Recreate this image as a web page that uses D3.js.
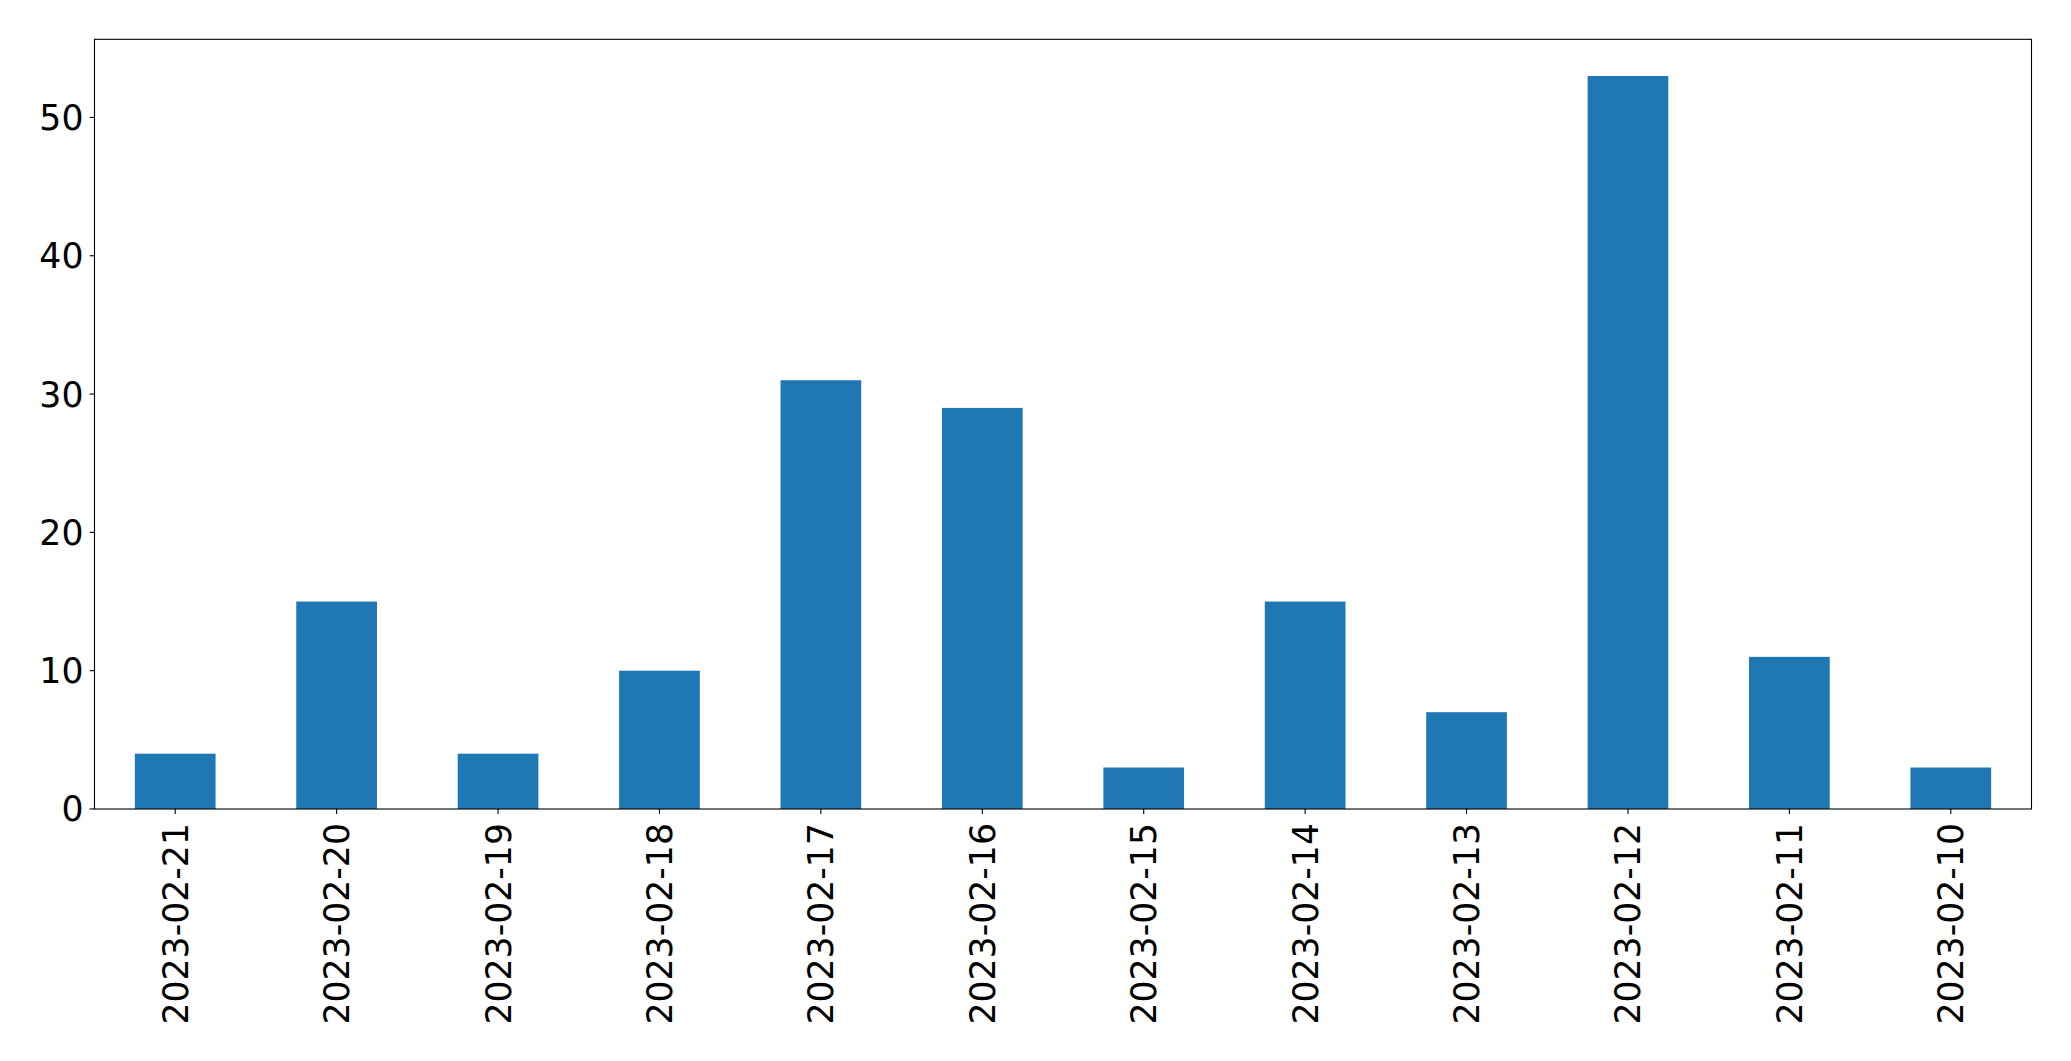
<!DOCTYPE html>
<html><head><meta charset="utf-8">
<script src="https://cdn.jsdelivr.net/npm/d3@7"></script>
<style>html,body{margin:0;padding:0;background:#fff;}svg{display:block;}</style>
</head><body>
<script>
const categories = ["2023-02-21","2023-02-20","2023-02-19","2023-02-18","2023-02-17","2023-02-16","2023-02-15","2023-02-14","2023-02-13","2023-02-12","2023-02-11","2023-02-10"];
const values = [4, 15, 4, 10, 31, 29, 3, 15, 7, 53, 11, 3];
const yTicks = [0, 10, 20, 30, 40, 50];

(function () {
const W = 2071, H = 1061;
const mLeft = 94.5, mRight = 2031.5, mTop = 39.3, mBottom = 809;
const fontSize = 34.7;

const svg = d3.select("body").append("svg").attr("width", W).attr("height", H)
  .style("font-family", "'DejaVu Sans', sans-serif");

const ymax = d3.max(values) * 1.05;
const y = d3.scaleLinear().domain([0, ymax]).range([mBottom, mTop]);
const x = d3.scaleLinear().domain([-0.5, categories.length - 0.5]).range([mLeft, mRight]);
const barW = 0.5;

svg.append("g").selectAll("rect").data(values).join("rect")
  .attr("x", (d, i) => x(i - barW / 2))
  .attr("width", (d, i) => x(i + barW / 2) - x(i - barW / 2))
  .attr("y", d => y(d))
  .attr("height", d => y(0) - y(d))
  .attr("fill", "#1f77b4");

svg.append("rect").attr("x", mLeft).attr("y", mTop)
  .attr("width", mRight - mLeft).attr("height", mBottom - mTop)
  .attr("fill", "none").attr("stroke", "#000").attr("stroke-width", 1.1);

const yg = svg.append("g");
yTicks.forEach(t => {
  yg.append("line").attr("x1", mLeft - 4.9).attr("x2", mLeft)
    .attr("y1", y(t)).attr("y2", y(t)).attr("stroke", "#000").attr("stroke-width", 1.1);
  yg.append("text").attr("x", mLeft - 11).attr("y", y(t)).attr("dy", "0.36em")
    .attr("text-anchor", "end").attr("font-size", fontSize).attr("fill", "#000").text(t);
});

const xg = svg.append("g");
categories.forEach((c, i) => {
  const cx = x(i);
  xg.append("line").attr("x1", cx).attr("x2", cx)
    .attr("y1", mBottom).attr("y2", mBottom + 4.9).attr("stroke", "#000").attr("stroke-width", 1.1);
  xg.append("text")
    .attr("transform", `translate(${cx},${mBottom + 14}) rotate(-90)`)
    .attr("dy", "0.36em").attr("text-anchor", "end")
    .attr("font-size", fontSize).attr("fill", "#000").text(c);
});
})();
</script>
</body></html>
